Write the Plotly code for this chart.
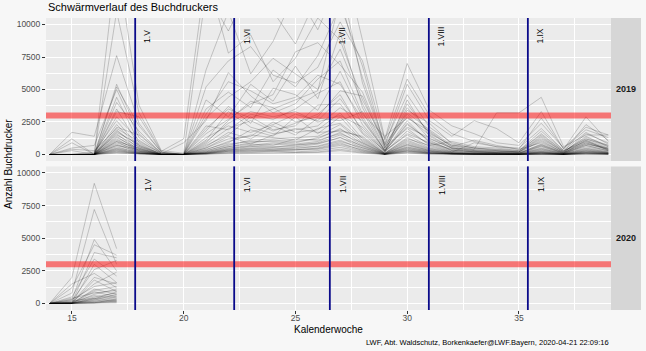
import plotly.graph_objects as go

# ---------------- data ----------------
weeks_2019 = [14, 15, 16, 17, 18, 19, 20, 21, 22, 23, 24, 25, 26,
              27, 28, 29, 30, 31, 32, 33, 34, 35, 36, 37, 38, 39]
weeks_2020 = [14, 15, 16, 17]

# 2019 trap counts (one list per trap, weeks 14..39)
t19_01 = [0, 0, 0, 15000, 3800, 300, 100, 12500, 9500, 13000, 11000, 8500, 12000, 16000, 8800, 1200, 7000, 3400, 2200, 1600, 900, 700, 2400, 500, 2100, 1500]
t19_02 = [0, 1700, 1400, 7600, 2400, 150, 0, 6500, 11000, 6200, 8700, 12500, 9600, 13500, 5500, 700, 5400, 2600, 1400, 2600, 2000, 900, 3300, 400, 2900, 1000]
t19_03 = [0, 0, 50, 11000, 3200, 250, 1200, 14000, 7800, 9200, 5600, 7400, 10500, 8800, 4200, 900, 4600, 2100, 900, 500, 400, 300, 1800, 300, 1700, 800]
t19_04 = [0, 1200, 0, 5400, 1600, 100, 0, 3500, 4800, 3600, 6500, 5200, 7600, 11500, 6800, 500, 3900, 1600, 700, 400, 3200, 3200, 4400, 600, 1500, 1500]
t19_05 = [0, 0, 0, 5200, 2200, 200, 0, 4200, 2900, 5400, 4100, 6800, 4300, 9400, 3600, 400, 3100, 1200, 500, 300, 200, 200, 1300, 200, 1200, 600]
t19_06 = [0, 500, 700, 5000, 1300, 50, 900, 2600, 6300, 4500, 3200, 3900, 5800, 7200, 3100, 1400, 2800, 1800, 600, 1100, 700, 400, 900, 150, 900, 400]
t19_07 = [0, 0, 0, 4400, 900, 0, 0, 1800, 3700, 2400, 5100, 4600, 3400, 6400, 2900, 300, 2600, 900, 400, 200, 150, 100, 700, 100, 1100, 300]
t19_08 = [0, 0, 0, 4000, 1800, 100, 0, 2200, 1900, 3100, 2700, 3500, 4700, 5600, 2300, 250, 2300, 1100, 300, 250, 100, 100, 600, 80, 800, 500]
t19_09 = [0, 300, 0, 3500, 700, 0, 0, 900, 2600, 4100, 3600, 2500, 2900, 4900, 4500, 600, 2000, 700, 1000, 600, 500, 300, 1500, 250, 1300, 700]
t19_10 = [0, 0, 0, 2900, 1100, 50, 0, 1300, 2200, 1700, 2300, 3100, 2600, 4300, 1900, 200, 1800, 800, 250, 150, 120, 80, 500, 60, 700, 300]
t19_11 = [0, 0, 200, 2600, 600, 0, 0, 700, 1500, 2900, 1900, 2200, 3800, 3900, 1600, 150, 4200, 1400, 500, 300, 250, 150, 1100, 120, 1600, 900]
t19_12 = [0, 0, 0, 2300, 500, 0, 0, 1100, 3300, 2100, 1600, 1900, 2200, 3600, 2600, 300, 1500, 600, 200, 100, 80, 60, 400, 50, 600, 250]
t19_13 = [0, 900, 0, 2100, 1500, 100, 0, 500, 1200, 1400, 2500, 1700, 1900, 3200, 1200, 100, 1300, 500, 180, 900, 600, 500, 2000, 300, 1000, 400]
t19_14 = [0, 0, 0, 1900, 400, 0, 0, 400, 900, 1900, 1400, 2900, 1600, 2900, 1000, 80, 1100, 450, 150, 80, 60, 40, 300, 40, 500, 200]
t19_15 = [0, 0, 0, 1700, 800, 0, 0, 600, 1700, 1200, 2200, 1500, 2800, 2600, 3300, 250, 2400, 1000, 350, 200, 150, 100, 800, 100, 900, 350]
t19_16 = [0, 0, 0, 1600, 300, 0, 0, 300, 700, 1100, 1200, 1300, 1400, 2300, 900, 60, 900, 350, 120, 60, 50, 30, 250, 30, 400, 150]
t19_17 = [0, 0, 100, 1500, 600, 50, 0, 800, 2000, 2600, 1800, 2400, 3100, 4600, 1700, 300, 3400, 2400, 800, 500, 300, 200, 1200, 200, 2300, 1100]
t19_18 = [0, 0, 0, 1400, 250, 0, 0, 200, 600, 900, 1100, 1000, 1200, 2000, 800, 50, 800, 300, 100, 50, 40, 30, 200, 20, 300, 120]
t19_19 = [0, 0, 0, 1300, 450, 0, 0, 500, 1400, 800, 1500, 2000, 1700, 1800, 1400, 120, 1200, 700, 200, 150, 100, 60, 450, 60, 700, 280]
t19_20 = [0, 0, 0, 1200, 200, 0, 0, 150, 500, 700, 900, 800, 1000, 1700, 700, 40, 700, 250, 80, 40, 30, 20, 150, 20, 250, 100]
t19_21 = [0, 0, 0, 1100, 350, 0, 0, 1000, 2400, 3300, 2900, 3300, 2500, 3000, 2100, 200, 1600, 900, 300, 200, 150, 90, 650, 80, 800, 400]
t19_22 = [0, 0, 0, 1000, 150, 0, 0, 120, 400, 600, 800, 700, 900, 1500, 600, 30, 600, 200, 60, 30, 20, 10, 120, 10, 200, 80]
t19_23 = [0, 0, 0, 900, 300, 0, 0, 350, 1000, 1500, 1300, 1100, 2000, 2400, 1100, 100, 1000, 400, 140, 70, 50, 40, 350, 50, 450, 180]
t19_24 = [0, 0, 0, 800, 120, 0, 0, 100, 350, 500, 600, 600, 800, 1300, 500, 20, 500, 150, 50, 20, 10, 10, 100, 10, 150, 60]
t19_25 = [0, 0, 0, 700, 250, 0, 0, 250, 800, 1000, 1000, 900, 1300, 1900, 1300, 80, 750, 300, 100, 60, 40, 30, 220, 30, 350, 140]
t19_26 = [0, 0, 0, 600, 100, 0, 0, 80, 300, 400, 500, 450, 650, 1100, 400, 20, 400, 120, 40, 20, 10, 5, 80, 5, 120, 50]
t19_27 = [0, 0, 0, 500, 200, 0, 0, 200, 600, 800, 700, 1200, 1100, 1600, 900, 60, 550, 250, 80, 50, 30, 20, 180, 20, 280, 110]
t19_28 = [0, 0, 0, 450, 80, 0, 0, 60, 250, 300, 400, 350, 500, 900, 300, 10, 300, 100, 30, 10, 10, 5, 60, 5, 90, 40]
t19_29 = [0, 0, 0, 400, 150, 0, 0, 150, 450, 650, 550, 750, 850, 1300, 700, 40, 450, 180, 60, 30, 20, 10, 140, 10, 200, 90]
t19_30 = [0, 0, 0, 350, 60, 0, 0, 50, 200, 250, 300, 300, 400, 700, 250, 10, 250, 80, 20, 10, 5, 5, 40, 0, 70, 30]
t19_31 = [0, 0, 0, 300, 100, 0, 0, 100, 350, 450, 400, 550, 600, 1000, 500, 30, 350, 130, 40, 20, 10, 10, 100, 10, 150, 60]
t19_32 = [0, 0, 0, 250, 50, 0, 0, 40, 150, 200, 250, 200, 300, 550, 200, 5, 200, 60, 15, 5, 5, 0, 30, 0, 50, 20]
t19_33 = [0, 0, 0, 200, 80, 0, 0, 80, 250, 350, 300, 400, 450, 800, 350, 20, 280, 100, 30, 15, 10, 5, 70, 5, 110, 45]
t19_34 = [0, 0, 0, 150, 40, 0, 0, 30, 100, 150, 200, 150, 200, 400, 150, 5, 150, 40, 10, 5, 0, 0, 20, 0, 30, 15]
t19_35 = [0, 0, 0, 100, 30, 0, 0, 20, 80, 100, 120, 100, 150, 300, 100, 0, 100, 30, 10, 0, 0, 0, 10, 0, 20, 10]
t19_36 = [0, 0, 0, 3300, 2900, 200, 0, 5200, 7200, 8300, 6100, 5500, 6700, 10200, 7200, 1100, 5800, 3000, 1600, 1000, 600, 400, 2800, 450, 1900, 1300]
t19_37 = [0, 400, 300, 2000, 1000, 100, 0, 2800, 4400, 5600, 7400, 6200, 5000, 8100, 3900, 500, 3600, 1700, 600, 350, 250, 200, 1400, 180, 1400, 600]
t19_38 = [0, 0, 0, 1800, 700, 50, 0, 1600, 2700, 3900, 4600, 7900, 8600, 6900, 4800, 700, 2900, 1500, 500, 400, 300, 200, 1000, 150, 1100, 500]
t19_39 = [0, 0, 0, 1000, 500, 0, 0, 3100, 5600, 4900, 3900, 4400, 6100, 5400, 2700, 350, 2100, 1300, 450, 250, 200, 150, 750, 120, 1000, 450]
t19_40 = [0, 0, 0, 700, 400, 0, 0, 2000, 3500, 2800, 3500, 4200, 4900, 12000, 5900, 800, 3200, 1900, 700, 500, 350, 250, 1600, 250, 1200, 700]

# 2020 trap counts (weeks 14..17)
t20_01 = [0, 2000, 9200, 4200]
t20_02 = [0, 800, 7200, 3000]
t20_03 = [0, 300, 4900, 2500]
t20_04 = [0, 1200, 4500, 3700]
t20_05 = [0, 100, 3900, 3500]
t20_06 = [0, 500, 3400, 2100]
t20_07 = [0, 0, 3000, 1600]
t20_08 = [0, 200, 2600, 3300]
t20_09 = [0, 1500, 2300, 1200]
t20_10 = [0, 50, 2000, 1500]
t20_11 = [0, 0, 1800, 900]
t20_12 = [0, 100, 1500, 2400]
t20_13 = [0, 300, 1300, 1600]
t20_14 = [0, 0, 1100, 700]
t20_15 = [0, 50, 1000, 1300]
t20_16 = [0, 0, 900, 500]
t20_17 = [0, 400, 800, 1000]
t20_18 = [0, 0, 700, 1100]
t20_19 = [0, 100, 600, 400]
t20_20 = [0, 0, 500, 800]
t20_21 = [0, 200, 450, 600]
t20_22 = [0, 0, 400, 300]
t20_23 = [0, 0, 350, 900]
t20_24 = [0, 50, 300, 200]
t20_25 = [0, 0, 250, 700]
t20_26 = [0, 0, 200, 150]
t20_27 = [0, 100, 150, 500]
t20_28 = [0, 0, 100, 250]
t20_29 = [0, 0, 80, 100]
t20_30 = [0, 0, 50, 350]
t20_31 = [0, 0, 30, 50]
t20_32 = [0, 0, 20, 200]

traps_2019 = [t19_01, t19_02, t19_03, t19_04, t19_05, t19_06, t19_07, t19_08, t19_09, t19_10,
              t19_11, t19_12, t19_13, t19_14, t19_15, t19_16, t19_17, t19_18, t19_19, t19_20,
              t19_21, t19_22, t19_23, t19_24, t19_25, t19_26, t19_27, t19_28, t19_29, t19_30,
              t19_31, t19_32, t19_33, t19_34, t19_35, t19_36, t19_37, t19_38, t19_39, t19_40]
traps_2020 = [t20_01, t20_02, t20_03, t20_04, t20_05, t20_06, t20_07, t20_08, t20_09, t20_10,
              t20_11, t20_12, t20_13, t20_14, t20_15, t20_16, t20_17, t20_18, t20_19, t20_20,
              t20_21, t20_22, t20_23, t20_24, t20_25, t20_26, t20_27, t20_28, t20_29, t20_30,
              t20_31, t20_32]

threshold = 3000
month_labels = ["1.V", "1.VI", "1.VII", "1.VIII", "1.IX"]
month_weeks = [17.83, 22.26, 26.54, 30.97, 35.40]
y_ticks = [0, 2500, 5000, 7500, 10000]
y_tick_labels = ["0", "2500", "5000", "7500", "10000"]
x_ticks = [15, 20, 25, 30, 35]
x_tick_labels = ["15", "20", "25", "30", "35"]
facet_labels = ["2019", "2020"]

# ---------------- figure ----------------
FONT = "Liberation Sans, Arial, sans-serif"
LINE_COL = "rgba(0,0,0,0.24)"

fig = go.Figure()
for tr in traps_2019:
    fig.add_trace(go.Scatter(x=weeks_2019, y=tr, mode="lines", xaxis="x", yaxis="y",
                             line=dict(color=LINE_COL, width=0.8), showlegend=False,
                             hoverinfo="skip"))
for tr in traps_2020:
    fig.add_trace(go.Scatter(x=weeks_2020, y=tr, mode="lines", xaxis="x2", yaxis="y2",
                             line=dict(color=LINE_COL, width=0.8), showlegend=False,
                             hoverinfo="skip"))

top_dom = [0.5103, 1.0]
bot_dom = [0.0, 0.4918]
xr = [13.84, 39.12]

tickfont = dict(family=FONT, size=8.5, color="#4D4D4D")
minor_x = dict(dtick=2.5, tick0=0, showgrid=True, gridcolor="white", gridwidth=0.5)
minor_y = dict(dtick=1250, tick0=0, showgrid=True, gridcolor="white", gridwidth=0.5)

fig.update_layout(
    width=646, height=351,
    margin=dict(l=46, r=35, t=18, b=41),
    paper_bgcolor="#F7F7F7", plot_bgcolor="#EBEBEB",
    font=dict(family=FONT, color="black"),
    xaxis=dict(domain=[0, 1], anchor="y", range=xr, tickmode="array", tickvals=x_ticks,
               showticklabels=False, ticks="", showline=False, zeroline=False,
               gridcolor="white", gridwidth=1.1, minor=minor_x),
    xaxis2=dict(domain=[0, 1], anchor="y2", range=xr, tickmode="array", tickvals=x_ticks,
                ticktext=x_tick_labels, ticks="outside", ticklen=3, tickcolor="#333333",
                ticklabelstandoff=-3,
                tickfont=tickfont, showline=False, zeroline=False,
                gridcolor="white", gridwidth=1.1, minor=minor_x),
    yaxis=dict(domain=top_dom, anchor="x", range=[-500, 10500], tickmode="array",
               tickvals=y_ticks, ticktext=y_tick_labels, ticks="outside", ticklen=3,
               tickcolor="#333333", tickfont=tickfont, showline=False, zeroline=False,
               gridcolor="white", gridwidth=1.1, minor=minor_y),
    yaxis2=dict(domain=bot_dom, anchor="x2", range=[-500, 10500], tickmode="array",
                tickvals=y_ticks, ticktext=y_tick_labels, ticks="outside", ticklen=3,
                tickcolor="#333333", tickfont=tickfont, showline=False, zeroline=False,
                gridcolor="white", gridwidth=1.1, minor=minor_y),
)

shapes = []
annotations = []
for yref, dom, lab in (("y", top_dom, facet_labels[0]), ("y2", bot_dom, facet_labels[1])):
    shapes.append(dict(type="line", xref="paper", x0=0, x1=1, yref=yref, y0=threshold, y1=threshold,
                       line=dict(color="rgba(255,0,0,0.5)", width=6), layer="above"))
    for w, ml in zip(month_weeks, month_labels):
        shapes.append(dict(type="line", xref="x", x0=w, x1=w, yref=yref + " domain", y0=0, y1=1,
                           line=dict(color="#0A0A8A", width=1.8), layer="above"))
        annotations.append(dict(x=w + 0.56, y=9100, xref="x", yref=yref, text=ml, textangle=-90,
                                showarrow=False, xanchor="center", yanchor="middle",
                                font=dict(family=FONT, size=8.5, color="black")))
    shapes.append(dict(type="rect", xref="paper", x0=1.0, x1=1.0531, yref="paper", y0=dom[0], y1=dom[1],
                       fillcolor="#D6D6D6", line=dict(width=0), layer="below"))
    annotations.append(dict(x=1.0265, y=(dom[0] + dom[1]) / 2, xref="paper", yref="paper",
                            text="<b>" + lab + "</b>", showarrow=False, xanchor="center",
                            yanchor="middle", font=dict(family=FONT, size=9, color="#1A1A1A")))

annotations.append(dict(x=0, y=1.0377, xref="paper", yref="paper", text="Schwärmverlauf des Buchdruckers",
                        showarrow=False, xanchor="left", yanchor="middle",
                        font=dict(family=FONT, size=11, color="black")))
annotations.append(dict(x=-0.0673, y=0.5, xref="paper", yref="paper", text="Anzahl Buchdrucker",
                        textangle=-90, showarrow=False, xanchor="center", yanchor="middle",
                        font=dict(family=FONT, size=10, color="black")))
annotations.append(dict(x=0.5, y=-0.068, xref="paper", yref="paper", text="Kalenderwoche",
                        showarrow=False, xanchor="center", yanchor="middle",
                        font=dict(family=FONT, size=10, color="black")))
annotations.append(dict(x=1.0, y=-0.1096, xref="paper", yref="paper",
                        text="LWF, Abt. Waldschutz, Borkenkaefer@LWF.Bayern, 2020-04-21 22:09:16",
                        showarrow=False, xanchor="right", yanchor="middle",
                        font=dict(family=FONT, size=7.5, color="black")))

fig.update_layout(shapes=shapes, annotations=annotations)
fig.write_html("out.html")
